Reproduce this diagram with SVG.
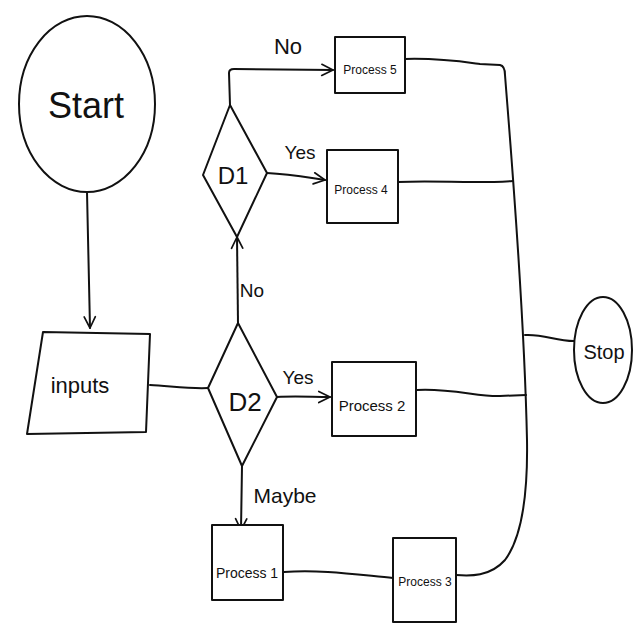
<svg xmlns="http://www.w3.org/2000/svg" width="640" height="640" viewBox="0 0 640 640">
<defs>
<marker id="arr" viewBox="0 0 20 20" refX="18" refY="10" markerWidth="14" markerHeight="14" markerUnits="userSpaceOnUse" orient="auto">
<path d="M2,2 L18,10 L2,18" fill="none" stroke="#111" stroke-width="2.4" stroke-linecap="round" stroke-linejoin="round"/>
</marker>
</defs>
<style>
.s{fill:none;stroke:#111;stroke-width:2;stroke-linecap:round;stroke-linejoin:round}
.b{fill:#fff;stroke:#111;stroke-width:2;stroke-linejoin:round}
.t{font-family:"Liberation Sans",Arial,sans-serif;fill:#111;text-anchor:middle;dominant-baseline:central}
.p{font-size:12px}
.l{font-size:19px}
</style>
<rect width="640" height="640" fill="#fff"/>
<g id="connectors">
<path class="s" d="M87,192 L90,328" marker-end="url(#arr)"/>
<path class="s" d="M150,385 C170,386 190,389 208,388"/>
<path class="s" d="M277,397 C295,396 312,397 330,397" marker-end="url(#arr)"/>
<path class="s" d="M238,323 L237,237" marker-end="url(#arr)"/>
<path class="s" d="M230,105 L229,73 Q229,69 234,69 L333,70" marker-end="url(#arr)"/>
<path class="s" d="M267,173 C290,174 305,177 325,180" marker-end="url(#arr)"/>
<path class="s" d="M242,466 L241,530" marker-end="url(#arr)"/>
<path class="s" d="M405,59 C440,58 465,62 480,64 L500,65 Q505,66 505,75 C510,140 524,300 527,440 C528,500 520,540 505,560 C490,577 470,576 456,575"/>
<path class="s" d="M398,182 C440,180 470,184 513,181"/>
<path class="s" d="M417,390 C450,388 480,397 500,396 L526,395"/>
<path class="s" d="M525,335 C545,334 555,341 574,341"/>
<path class="s" d="M284,572 C320,569 360,575 393,578"/>
</g>
<g id="start">
<ellipse class="b" cx="87" cy="104" rx="68" ry="88"/>
<text class="t" x="86" y="105" font-size="36">Start</text>
</g>
<g id="inputs">
<path class="b" d="M43,332 L150,334 L146,432 L27,434 Z"/>
<text class="t" x="80" y="385" font-size="22">inputs</text>
</g>
<g id="d2">
<path class="b" d="M238,323 L277,397 L242,466 L208,388 Z"/>
<text class="t" x="245" y="402" font-size="26">D2</text>
</g>
<g id="d1">
<path class="b" d="M230,105 L267,173 L237,237 L203,175 Z"/>
<text class="t" x="233" y="175" font-size="24">D1</text>
</g>
<g id="process5">
<rect class="b" x="335" y="37" width="70" height="56"/>
<text class="t p" x="370" y="70">Process 5</text>
</g>
<g id="process4">
<rect class="b" x="327" y="150" width="71" height="73"/>
<text class="t p" x="361" y="190">Process 4</text>
</g>
<g id="process2">
<rect class="b" x="332" y="362" width="84" height="74"/>
<text class="t" x="372" y="405" font-size="15">Process 2</text>
</g>
<g id="process1">
<rect class="b" x="212" y="525" width="71" height="75"/>
<text class="t" x="247" y="573" font-size="14">Process 1</text>
</g>
<g id="process3">
<rect class="b" x="393" y="538" width="63" height="84"/>
<text class="t p" x="425" y="582">Process 3</text>
</g>
<g id="stop">
<ellipse class="b" cx="603" cy="350" rx="29" ry="53"/>
<text class="t" x="604" y="352" font-size="20">Stop</text>
</g>
<g id="labels">
<text class="t" x="288" y="46" font-size="22">No</text>
<text class="t l" x="300" y="152">Yes</text>
<text class="t l" x="252" y="290">No</text>
<text class="t l" x="298" y="377">Yes</text>
<text class="t" x="285" y="495" font-size="21">Maybe</text>
</g>
</svg>
